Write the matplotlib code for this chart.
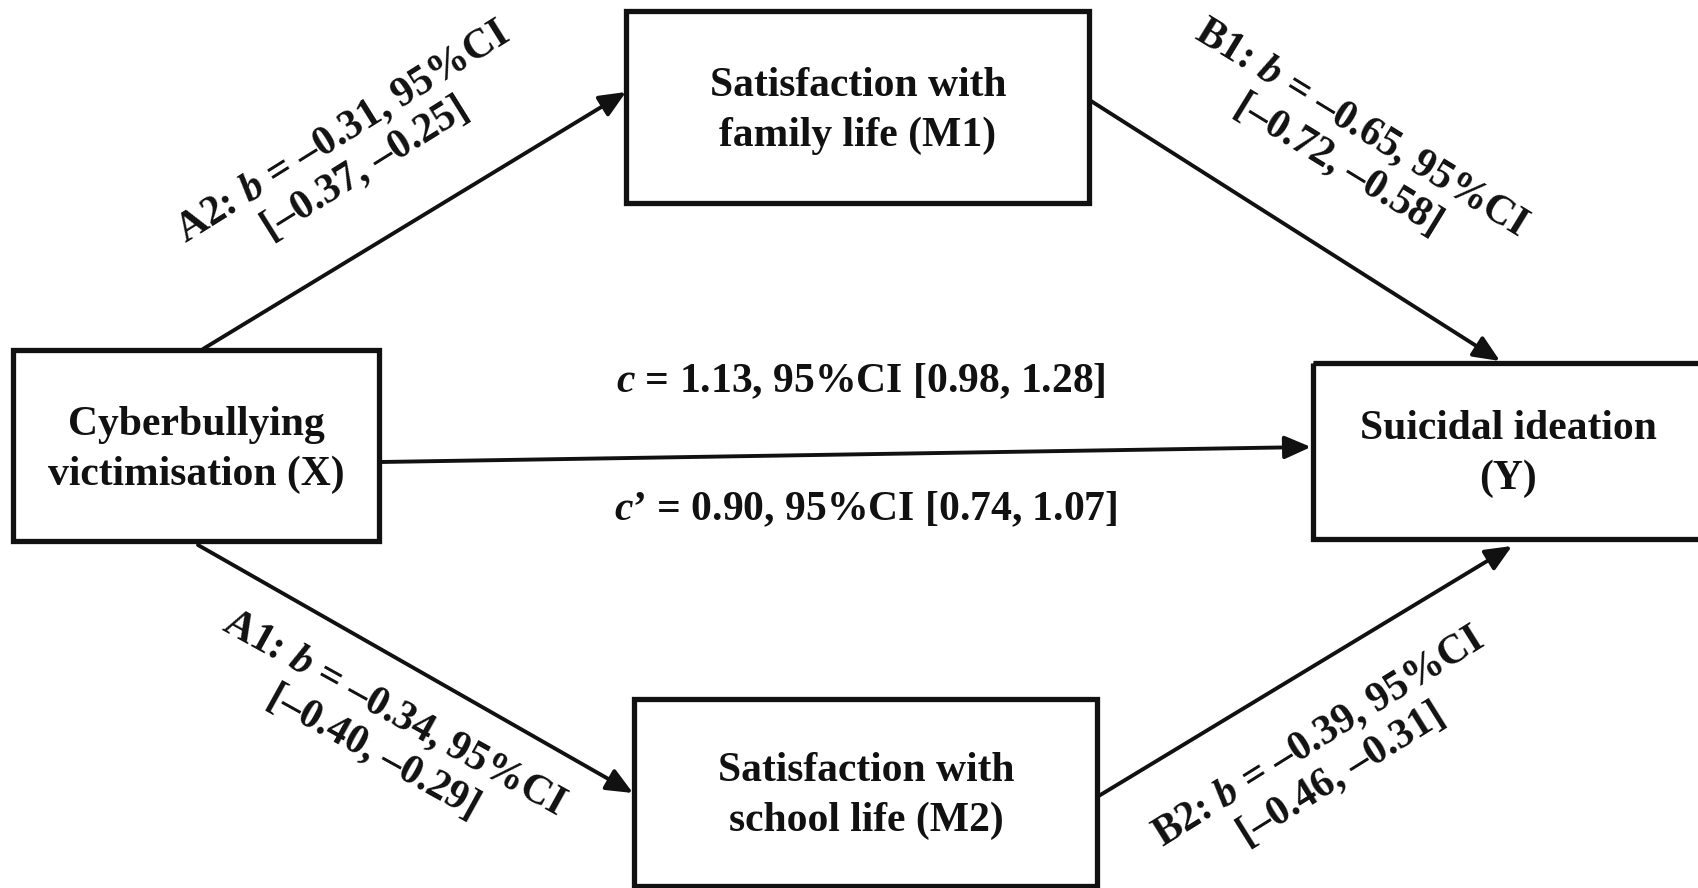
import matplotlib
matplotlib.use("Agg")
import matplotlib.pyplot as plt
from matplotlib.patches import Rectangle, FancyArrowPatch

plt.rcParams['font.family'] = ['Liberation Serif', 'DejaVu Serif']
plt.rcParams['font.weight'] = 'bold'
plt.rcParams['mathtext.fontset'] = 'custom'
plt.rcParams['mathtext.rm'] = 'Liberation Serif:bold'
plt.rcParams['mathtext.it'] = 'Liberation Serif:italic:bold'

# variables in the model
node_names = ['X', 'M1', 'M2', 'Y']
node_labels = ['Cyberbullying\nvictimisation (X)',
               'Satisfaction with\nfamily life (M1)',
               'Satisfaction with\nschool life (M2)',
               'Suicidal ideation\n(Y)']

# path coefficients: name, b, lower, upper
path_names = ['A2', 'B1', 'A1', 'B2']
path_b = [-0.31, -0.65, -0.34, -0.39]
path_lo = [-0.37, -0.72, -0.40, -0.46]
path_hi = [-0.25, -0.58, -0.29, -0.31]

total_effect = [1.13, 0.98, 1.28]
direct_effect = [0.90, 0.74, 1.07]

# layout (pixel coordinates of the picture)
boxes = {'X': (13, 350, 379, 541), 'M1': (626, 11, 1089, 203),
         'M2': (634, 699, 1097, 886), 'Y': (1313, 363, 1705, 539)}
label_pos = {'X': (196, 450), 'M1': (858, 111), 'M2': (866, 796), 'Y': (1508, 454)}
arrows = {'A2': ((203, 349), (626, 92)), 'B1': ((1091, 101), (1500, 361)),
          'A1': ((198, 545), (633, 793)), 'B2': ((1097, 797), (1512, 546))}
arrow_c = ((381, 462), (1311, 447))
coef_pos = {'A2': (354, 150, 32), 'B1': (1350, 146, -31.5),
            'A1': (384, 732, -29), 'B2': (1330, 755, 32)}


def fmt(v):
    return f'{v:.2f}'.replace('-', '\u2013')


fig = plt.figure(figsize=(16.98, 8.88), dpi=100)
ax = fig.add_axes([0, 0, 1, 1])
ax.set_xlim(0, 1698)
ax.set_ylim(888, 0)
ax.axis('off')

fs = 30

for name, lab in zip(node_names, node_labels):
    x0, y0, x1, y1 = boxes[name]
    ax.add_patch(Rectangle((x0, y0), x1 - x0, y1 - y0, fill=False, lw=3.8, ec='#111111'))
    tx, ty = label_pos[name]
    ax.text(tx, ty, lab, ha='center', va='center', fontsize=fs,
            linespacing=1.4, color='#111111')


def arrow(p0, p1):
    ax.add_patch(FancyArrowPatch(p0, p1, arrowstyle='-|>,head_length=16,head_width=7',
                                 lw=2.8, color='#111111', mutation_scale=1,
                                 shrinkA=0, shrinkB=0))


for name in path_names:
    arrow(*arrows[name])
arrow(*arrow_c)

for name, b, lo, hi in zip(path_names, path_b, path_lo, path_hi):
    x, y, rot = coef_pos[name]
    s = f'{name}: $b$ = {fmt(b)}, 95%CI\n[{fmt(lo)}, {fmt(hi)}]'
    ax.text(x, y, s, ha='center', va='center', rotation=rot, rotation_mode='anchor',
            fontsize=fs, linespacing=1.15, color='#111111')

ax.text(861, 381, f'$c$ = {total_effect[0]:.2f}, 95%CI [{total_effect[1]:.2f}, {total_effect[2]:.2f}]',
        ha='center', va='center', fontsize=fs, color='#111111')
ax.text(866, 509, f'$c$\u2019 = {direct_effect[0]:.2f}, 95%CI [{direct_effect[1]:.2f}, {direct_effect[2]:.2f}]',
        ha='center', va='center', fontsize=fs, color='#111111')

fig.savefig('out.png', dpi=100)
